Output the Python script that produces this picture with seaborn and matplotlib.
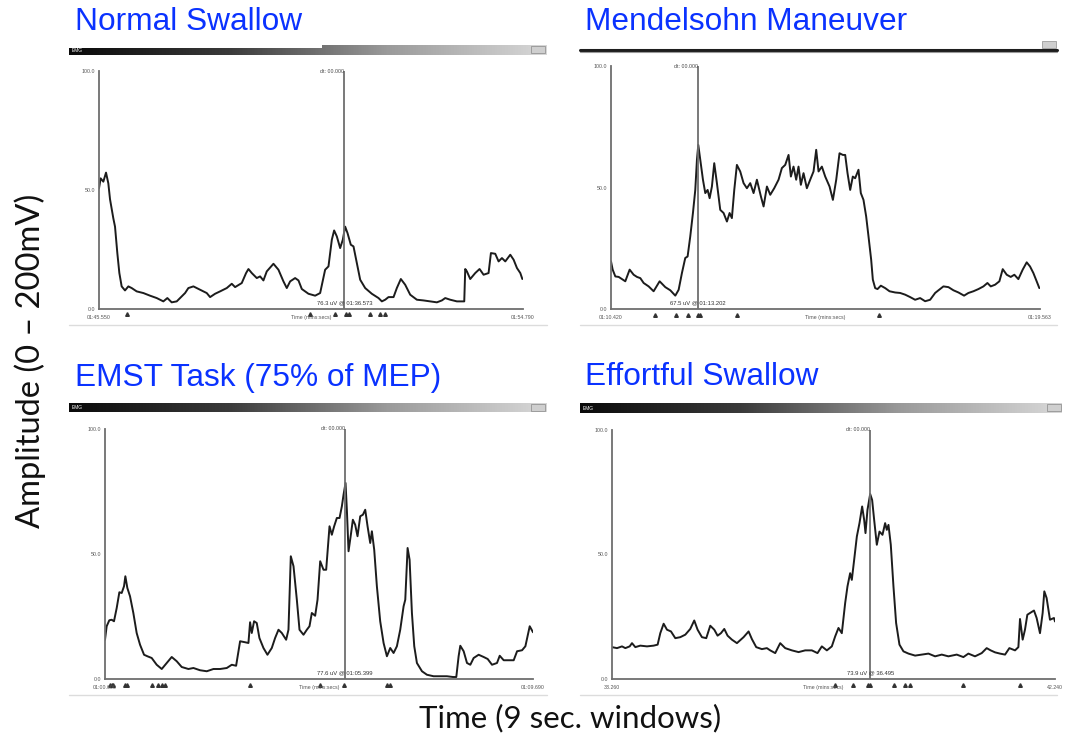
import numpy as np
import pandas as pd
import matplotlib
matplotlib.use("Agg")
import matplotlib.pyplot as plt
from matplotlib.lines import Line2D
from matplotlib.patches import Rectangle
from matplotlib.colors import LinearSegmentedColormap
import seaborn as sns

# ---------------- data (time in s within 9 s window, amplitude in % of 0-100 scale) ----------------
titles = ["Normal Swallow", "Mendelsohn Maneuver", "EMST Task (75% of MEP)", "Effortful Swallow"]

normal_t = [0, 0.035, 0.092, 0.149, 0.198, 0.234, 0.304, 0.340, 0.389, 0.432, 0.481, 0.552, 0.623, 0.694,
            0.800, 0.942, 1.083, 1.225, 1.366, 1.451, 1.543, 1.650, 1.756, 1.827, 1.897, 2.004, 2.145, 2.287,
            2.358, 2.464, 2.570, 2.712, 2.818, 2.889, 3.030, 3.122, 3.172, 3.243, 3.349, 3.420, 3.490, 3.561,
            3.703, 3.809, 3.915, 3.986, 4.057, 4.163, 4.234, 4.305, 4.446, 4.588, 4.694, 4.800, 4.871, 4.942,
            4.991, 5.048, 5.119, 5.175, 5.225, 5.275, 5.345, 5.402, 5.473, 5.544, 5.650, 5.791, 5.933, 6.004,
            6.075, 6.145, 6.252, 6.322, 6.407, 6.499, 6.606, 6.747, 6.889, 7.030, 7.172, 7.278, 7.349, 7.455,
            7.597, 7.753, 7.774, 7.809, 7.880, 7.986, 8.078, 8.163, 8.269, 8.319, 8.411, 8.482, 8.553, 8.624,
            8.730, 8.801, 8.872, 8.943, 8.986]
normal_v = [50.7, 54.9, 53.5, 57.3, 52.8, 46.1, 38.1, 34.6, 23.5, 15.1, 9.5, 7.8, 9.5, 8.8,
            7.4, 6.7, 5.6, 4.6, 3.2, 4.6, 2.8, 3.2, 5.3, 6.7, 8.8, 9.5, 8.1, 6.7,
            5.0, 6.4, 7.4, 8.8, 10.6, 9.2, 10.9, 15.1, 16.8, 15.1, 13.0, 13.7, 12.0, 15.8,
            19.0, 16.5, 11.6, 8.8, 11.6, 13.0, 12.0, 8.4, 6.4, 5.6, 6.7, 16.5, 17.9, 29.1,
            33.0, 30.5, 25.6, 29.1, 34.6, 31.9, 27.0, 26.3, 19.3, 12.3, 8.8, 6.4, 4.6, 3.2,
            3.9, 5.0, 5.0, 8.8, 12.6, 10.2, 6.0, 3.9, 3.6, 3.2, 2.8, 3.6, 4.6, 3.9,
            3.2, 3.2, 16.8, 15.8, 12.6, 15.1, 16.8, 14.4, 15.1, 23.5, 23.2, 20.0, 21.4, 20.0,
            22.8, 20.7, 17.2, 15.1, 12.6]

mendel_t = [0, 0.035, 0.091, 0.161, 0.231, 0.300, 0.391, 0.475, 0.545, 0.615, 0.685, 0.790, 0.894, 1.020,
            1.139, 1.244, 1.349, 1.419, 1.488, 1.558, 1.607, 1.663, 1.719, 1.768, 1.803, 1.831, 1.873, 1.929,
            1.978, 2.027, 2.069, 2.117, 2.166, 2.222, 2.292, 2.362, 2.432, 2.488, 2.536, 2.586, 2.641, 2.711,
            2.781, 2.851, 2.921, 2.991, 3.061, 3.145, 3.201, 3.271, 3.341, 3.424, 3.515, 3.585, 3.655, 3.725,
            3.774, 3.829, 3.885, 3.934, 3.983, 4.039, 4.109, 4.179, 4.249, 4.305, 4.354, 4.424, 4.494, 4.585,
            4.655, 4.725, 4.794, 4.864, 4.913, 4.962, 5.018, 5.073, 5.122, 5.192, 5.241, 5.297, 5.353, 5.402,
            5.458, 5.493, 5.542, 5.591, 5.661, 5.752, 5.843, 5.961, 6.066, 6.171, 6.276, 6.380, 6.485, 6.590,
            6.695, 6.800, 6.870, 6.974, 7.079, 7.184, 7.289, 7.407, 7.498, 7.603, 7.708, 7.813, 7.897, 7.967,
            8.058, 8.148, 8.218, 8.302, 8.386, 8.462, 8.546, 8.637, 8.721, 8.791, 8.861, 8.930, 8.986]
mendel_v = [19.6, 16.2, 13.4, 13.2, 12.3, 11.4, 16.2, 14.1, 13.2, 12.7, 10.7, 9.3, 7.3, 11.4,
            9.0, 7.7, 5.5, 7.9, 14.8, 21.0, 21.6, 29.9, 39.5, 49.0, 61.4, 67.5, 61.4, 53.2,
            47.7, 49.0, 45.6, 50.4, 60.0, 51.8, 40.8, 39.5, 36.0, 39.5, 37.4, 49.0, 59.3, 56.6,
            51.8, 49.7, 51.8, 47.7, 53.2, 46.3, 42.2, 50.4, 47.0, 49.7, 53.2, 58.0, 59.3, 63.4,
            54.5, 58.6, 53.2, 58.6, 51.1, 55.9, 49.7, 53.2, 56.6, 65.5, 56.6, 58.6, 54.5, 50.4,
            44.9, 53.2, 64.1, 63.4, 63.4, 55.9, 49.0, 54.5, 53.8, 57.3, 47.7, 44.9, 38.1, 29.9,
            20.3, 12.1, 8.6, 8.2, 9.6, 8.6, 7.3, 6.8, 6.6, 5.9, 4.9, 3.8, 4.5, 3.2,
            3.8, 6.6, 7.7, 9.3, 9.0, 7.7, 6.8, 5.5, 6.6, 7.3, 8.2, 9.3, 10.7, 9.3,
            10.0, 11.4, 16.4, 14.1, 13.2, 14.1, 12.3, 16.2, 19.2, 17.5, 14.8, 11.4, 8.6]

emst_t = [0, 0.035, 0.091, 0.140, 0.189, 0.246, 0.302, 0.351, 0.400, 0.428, 0.470, 0.526, 0.596, 0.666,
          0.737, 0.821, 0.891, 0.982, 1.087, 1.193, 1.298, 1.403, 1.508, 1.613, 1.754, 1.859, 1.999, 2.140,
          2.280, 2.420, 2.561, 2.666, 2.757, 2.841, 2.946, 3.016, 3.051, 3.086, 3.135, 3.191, 3.247, 3.332,
          3.416, 3.507, 3.577, 3.648, 3.718, 3.809, 3.858, 3.907, 3.964, 4.034, 4.090, 4.174, 4.244, 4.300,
          4.349, 4.419, 4.469, 4.525, 4.595, 4.651, 4.721, 4.770, 4.819, 4.875, 4.932, 4.981, 5.016, 5.058,
          5.086, 5.121, 5.170, 5.212, 5.261, 5.310, 5.367, 5.423, 5.472, 5.521, 5.577, 5.612, 5.661, 5.717,
          5.787, 5.858, 5.928, 5.998, 6.068, 6.138, 6.208, 6.279, 6.314, 6.363, 6.405, 6.454, 6.503, 6.559,
          6.665, 6.770, 6.910, 7.051, 7.191, 7.317, 7.387, 7.436, 7.471, 7.542, 7.612, 7.682, 7.752, 7.857,
          7.963, 8.047, 8.138, 8.243, 8.300, 8.384, 8.489, 8.594, 8.665, 8.770, 8.840, 8.931, 9.0]
emst_v = [15.7, 21.1, 23.5, 23.7, 23.1, 28.4, 34.7, 34.4, 37.1, 41.1, 36.4, 33.1, 26.4, 18.4,
          13.7, 9.7, 9.1, 8.4, 5.7, 4.0, 6.4, 8.8, 7.1, 4.8, 4.0, 4.4, 3.5, 3.1,
          4.0, 4.0, 4.4, 5.7, 5.3, 15.1, 14.7, 14.4, 22.7, 18.4, 23.1, 22.4, 16.4, 12.4,
          9.7, 12.4, 16.4, 19.7, 18.4, 15.7, 19.7, 49.1, 45.1, 31.7, 19.7, 17.7, 19.7, 21.1,
          26.4, 25.3, 31.7, 47.1, 43.7, 43.7, 61.1, 57.7, 61.1, 64.4, 64.4, 69.1, 73.7, 78.4,
          67.7, 51.1, 57.7, 63.7, 61.7, 57.1, 65.1, 65.7, 67.7, 61.1, 54.4, 59.1, 51.7, 37.1,
          23.1, 14.4, 9.1, 12.4, 10.4, 13.1, 19.7, 29.1, 31.7, 52.4, 47.7, 26.4, 13.1, 6.4,
          3.1, 1.7, 1.1, 1.1, 1.1, 0.8, 0.8, 9.1, 13.3, 11.1, 6.4, 5.7, 8.4, 9.7,
          8.8, 8.0, 5.7, 6.4, 9.3, 7.5, 7.5, 7.5, 11.1, 11.5, 13.1, 21.1, 18.7]

effort_t = [0, 0.102, 0.203, 0.271, 0.359, 0.406, 0.474, 0.575, 0.711, 0.846, 0.927, 0.981, 1.049, 1.117,
            1.198, 1.286, 1.387, 1.489, 1.590, 1.671, 1.739, 1.827, 1.915, 1.996, 2.078, 2.145, 2.213, 2.281,
            2.348, 2.436, 2.538, 2.673, 2.775, 2.843, 2.930, 3.045, 3.147, 3.214, 3.316, 3.417, 3.519, 3.654,
            3.790, 3.925, 4.060, 4.175, 4.263, 4.365, 4.466, 4.534, 4.601, 4.669, 4.737, 4.784, 4.838, 4.872,
            4.920, 4.974, 5.028, 5.082, 5.123, 5.150, 5.190, 5.245, 5.285, 5.326, 5.380, 5.434, 5.495, 5.549,
            5.583, 5.617, 5.664, 5.718, 5.772, 5.840, 5.921, 6.023, 6.158, 6.293, 6.429, 6.564, 6.699, 6.834,
            7.004, 7.139, 7.240, 7.375, 7.511, 7.612, 7.693, 7.782, 7.883, 7.985, 8.073, 8.188, 8.256, 8.289,
            8.343, 8.390, 8.438, 8.492, 8.573, 8.627, 8.695, 8.749, 8.783, 8.830, 8.898, 8.979, 9.0]
effort_v = [12.8, 12.4, 13.1, 12.4, 13.1, 14.4, 12.8, 13.4, 13.1, 13.4, 13.8, 18.4, 22.2, 19.8,
            19.1, 16.4, 16.8, 17.8, 20.1, 23.5, 19.8, 16.8, 16.4, 21.4, 19.8, 17.4, 18.4, 20.1,
            17.4, 15.8, 14.4, 16.8, 19.1, 16.0, 12.8, 12.0, 12.4, 11.5, 10.4, 14.4, 12.4, 11.5,
            10.8, 11.5, 11.5, 10.4, 13.1, 11.5, 13.1, 17.1, 20.5, 18.4, 30.5, 37.2, 42.5, 39.8,
            47.9, 57.2, 62.6, 69.3, 63.9, 58.6, 67.9, 74.3, 71.9, 63.9, 53.9, 59.2, 57.9, 62.6,
            59.9, 61.9, 53.9, 37.2, 22.5, 13.8, 11.1, 10.2, 9.4, 9.8, 10.2, 9.1, 9.8, 9.1,
            9.8, 8.8, 10.2, 9.1, 10.4, 12.4, 11.5, 10.7, 10.2, 9.8, 12.4, 11.5, 12.8, 24.1,
            15.8, 19.8, 25.8, 26.5, 27.5, 24.5, 18.4, 26.5, 35.2, 32.5, 23.8, 24.5, 23.1]

cursor_times = [5.21, 1.824, 5.05, 5.245]
event_times = [
    [0.588, 4.482, 5.013, 5.246, 5.296, 5.756, 5.969, 6.075],
    [0.93, 1.37, 1.61, 1.82, 1.87, 2.64, 5.63],
    [0.105, 0.140, 0.175, 0.421, 0.456, 0.982, 1.122, 1.192, 1.263, 3.051, 4.525, 5.016, 5.928, 5.998],
    [4.534, 4.893, 5.211, 5.245, 5.732, 5.955, 6.056, 7.126, 8.289],
]
start_labels = ["01:45.550", "01:10.420", "01:00.600", "33.260"]
end_labels = ["01:54.790", "01:19.563", "01:09.690", "42.240"]
cursor_value_labels = ["76.3 uV @ 01:36.573", "67.5 uV @ 01:13.202", "77.6 uV @ 01:05.399", "73.9 uV @ 36.495"]
ytick_values = [0, 50, 100]
ytick_labels = ["0.0", "50.0", "100.0"]

series = [(normal_t, normal_v), (mendel_t, mendel_v), (emst_t, emst_v), (effort_t, effort_v)]

# ---------------- figure ----------------
sns.set_style("white")
plt.rcParams["font.family"] = ["Liberation Sans", "DejaVu Sans"]

W, H = 1070, 753
fig = plt.figure(figsize=(W / 100, H / 100), dpi=100)
fig.patch.set_facecolor("white")


def rect(l, t, r, b):
    return [l / W, 1 - b / H, (r - l) / W, (b - t) / H]


def fig_rect(l, t, r, b, **kw):
    fig.patches.append(Rectangle((l / W, 1 - b / H), (r - l) / W, (b - t) / H,
                                 transform=fig.transFigure, **kw))


# axes boxes (pixel l, t, r, b)
axes_boxes = [(99, 71, 523, 309), (611, 66, 1040, 309), (105, 429, 533, 679), (612, 430, 1055, 679)]
# gradient window bars
bar_boxes = [(69, 45, 547, 55), None, (69, 403, 547, 412), (580, 403, 1062, 413)]
icon_boxes = [(531, 46, 545, 53), (1042, 41, 1056, 48), (1531 - 1000, 404, 545, 411), (1047, 404, 1061, 411)]
sep_lines = [(69, 547, 325), (580, 1057, 325), (69, 547, 695), (580, 1057, 695)]
title_pos = [(75, 22), (585, 22), (75, 378), (585, 377)]

grad = np.linspace(0, 1, 256).reshape(1, -1)
bar_cmap = LinearSegmentedColormap.from_list("bar", ["#0a0a0a", "#3a3a3a", "#9a9a9a", "#d8d8d8"])

for i, bb in enumerate(bar_boxes):
    if bb is not None:
        bax = fig.add_axes(rect(*bb))
        bax.imshow(grad, aspect="auto", cmap=bar_cmap, extent=[0, 1, 0, 1])
        bax.set_axis_off()
        bax.text(0.005, 0.5, "EMG", color="white", fontsize=3.5, va="center", ha="left",
                 transform=bax.transAxes)
    ib = icon_boxes[i]
    fig_rect(*ib, facecolor="#cfcfcf", edgecolor="#777777", lw=0.4, zorder=5)

# Mendelsohn panel: only the bottom edge of the window bar is visible
fig.add_artist(Line2D([580 / W, 1057 / W], [1 - 49.5 / H, 1 - 49.5 / H], color="#1e1e1e", lw=2.2))
fig.add_artist(Line2D([580 / W, 1057 / W], [1 - 51.5 / H, 1 - 51.5 / H], color="#9a9a9a", lw=0.8))

# white box behind first title covering part of the bar
fig_rect(66, 0, 322, 48, facecolor="white", edgecolor="none", zorder=4)

for (x0, x1, y) in sep_lines:
    fig.add_artist(Line2D([x0 / W, x1 / W], [1 - y / H, 1 - y / H], color="#dcdcdc", lw=1.0))

for i, ((t, v), box) in enumerate(zip(series, axes_boxes)):
    ax = fig.add_axes(rect(*box))
    df = pd.DataFrame({"t": t, "v": v})
    sns.lineplot(data=df, x="t", y="v", ax=ax, color="#1c1c1c", lw=1.4,
                 estimator=None, sort=False)
    ax.set_xlim(0, 9)
    ax.set_ylim(0, 100)
    ax.set_xlabel("")
    ax.set_ylabel("")
    for s in ["top", "right"]:
        ax.spines[s].set_visible(False)
    for s in ["left", "bottom"]:
        ax.spines[s].set_color("#6e6e6e")
        ax.spines[s].set_linewidth(1.3)
    ax.set_facecolor("none")
    ax.set_xticks([])
    ax.set_yticks(ytick_values)
    ax.set_yticklabels(ytick_labels)
    ax.tick_params(axis="y", labelsize=3.8, length=2, width=0.6, pad=1, colors="#555555")
    ax.axvline(cursor_times[i], color="#6e6e6e", lw=1.3, ymin=0, ymax=1)
    ax.text(cursor_times[i], 100, "dt: 00.000", fontsize=3.8, ha="right", va="center", color="#444444")
    ax.text(cursor_times[i], 1.5, cursor_value_labels[i], fontsize=4.2, ha="center", va="bottom",
            color="#333333")
    ax.text(0, -2.5, start_labels[i], fontsize=3.8, ha="center", va="top", color="#555555", clip_on=False)
    ax.text(9, -2.5, end_labels[i], fontsize=3.8, ha="center", va="top", color="#555555", clip_on=False)
    ax.text(4.5 if i != 3 else 4.3, -2.5, "Time (mins:secs)", fontsize=3.8, ha="center", va="top",
            color="#555555", clip_on=False)
    ax.plot(event_times[i], [-2.3] * len(event_times[i]), linestyle="none", marker="^", ms=2.6,
            color="#333333", clip_on=False)

for txt, (x, y) in zip(titles, title_pos):
    fig.text(x / W, 1 - y / H, txt, color="#0a32ff", fontsize=22.8, ha="left", va="center", zorder=6,
             family=["Liberation Sans", "DejaVu Sans"])

fig.text(30 / W, 1 - 361 / H, "Amplitude (0 \u2013 200mV)", rotation=90, ha="center", va="center",
         fontsize=23.5, color="#111111", family=["Lato", "DejaVu Sans"])
fig.text(570 / W, 1 - 718 / H, "Time (9 sec. windows)", ha="center", va="center",
         fontsize=22.5, color="#111111", family=["Lato", "DejaVu Sans"])

fig.savefig("out.png", dpi=100, facecolor="white")
